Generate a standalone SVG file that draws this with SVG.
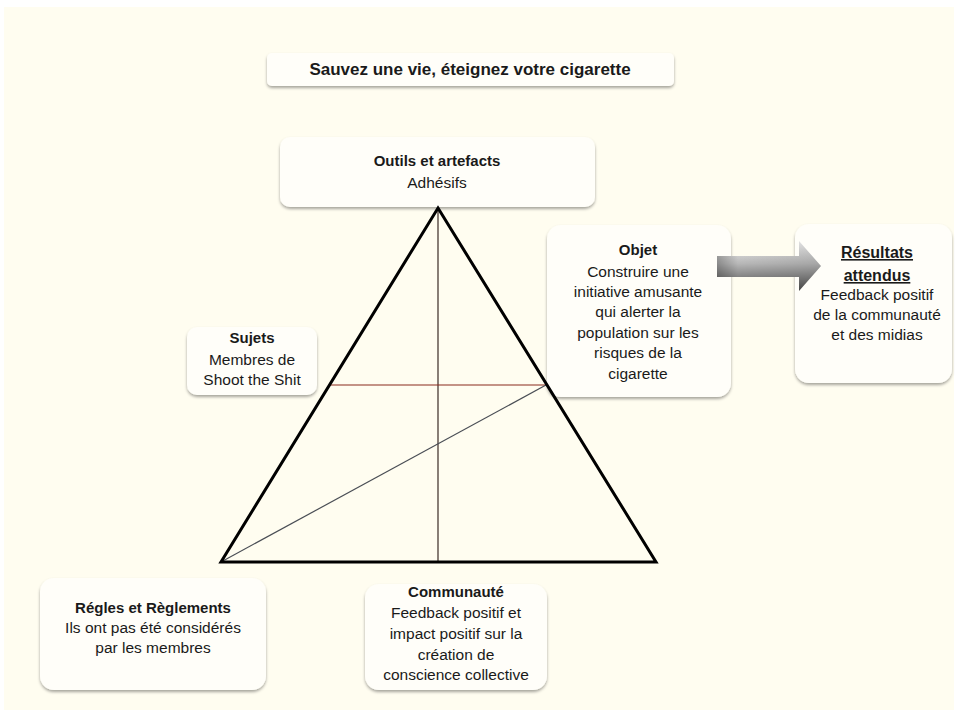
<svg xmlns="http://www.w3.org/2000/svg" width="957" height="715" viewBox="0 0 957 715">
<defs>
<filter id="sh" x="-10%" y="-10%" width="120%" height="130%">
<feDropShadow dx="0" dy="2" stdDeviation="1.8" flood-color="#000" flood-opacity="0.35"/>
</filter>
<linearGradient id="ag" x1="0" y1="0" x2="0" y2="1">
<stop offset="0" stop-color="#f4f4f4"/>
<stop offset="0.45" stop-color="#b8b8b8"/>
<stop offset="1" stop-color="#4a4a4a"/>
</linearGradient>
<linearGradient id="ah" x1="0" y1="0" x2="1" y2="0">
<stop offset="0" stop-color="#000" stop-opacity="0.25"/>
<stop offset="0.2" stop-color="#000" stop-opacity="0"/>
<stop offset="1" stop-color="#000" stop-opacity="0.1"/>
</linearGradient>
</defs>
<style>
.box{fill:#fffef9;filter:url(#sh);}
text{font-family:"Liberation Sans",Arial,sans-serif;fill:#1a1a1a;text-anchor:middle;font-size:15.5px;}
.b{font-weight:bold;font-size:15px;}
.u{font-weight:bold;font-size:16px;text-decoration:underline;}
.tri{fill:none;stroke:#000;stroke-width:3;stroke-linejoin:miter;}
.thin{stroke-width:1.2;fill:none;}
</style>
<rect x="0" y="0" width="957" height="715" fill="#ffffff"/>
<rect x="4" y="7" width="950" height="703" fill="#fffdf0"/>

<g id="title">
<rect class="box" x="267" y="53" width="407" height="33" rx="5"/>
<text x="470" y="75" style="font-weight:bold;font-size:17px">Sauvez une vie, éteignez votre cigarette</text>
</g>

<g id="outils">
<rect class="box" x="280" y="137" width="315" height="70" rx="10"/>
<text class="b" x="437" y="166">Outils et artefacts</text>
<text x="437" y="188">Adhésifs</text>
</g>

<g id="objet">
<rect class="box" x="547" y="225" width="184" height="172" rx="14"/>
<text class="b" x="638" y="255">Objet</text>
<text x="638" y="277">Construire une</text>
<text x="638" y="297">initiative amusante</text>
<text x="638" y="317">qui alerter  la</text>
<text x="638" y="338">population sur les</text>
<text x="638" y="358">risques de la</text>
<text x="638" y="379">cigarette</text>
</g>

<g id="resultats">
<rect class="box" x="795" y="224" width="157" height="159" rx="14"/>
<text class="u" x="877" y="258">Résultats</text>
<text class="u" x="877" y="281">attendus</text>
<text x="877" y="300">Feedback positif</text>
<text x="877" y="320">de la communauté</text>
<text x="877" y="340">et des midias</text>
</g>

<g id="sujets">
<rect class="box" x="187" y="327" width="130" height="68" rx="10"/>
<text class="b" x="252" y="343">Sujets</text>
<text x="252" y="365">Membres de</text>
<text x="252" y="385">Shoot the Shit</text>
</g>

<g id="regles">
<rect class="box" x="40" y="578" width="226" height="112" rx="14"/>
<text class="b" x="153" y="613">Régles et Règlements</text>
<text x="153" y="633">Ils ont pas été considérés</text>
<text x="153" y="653">par les membres</text>
</g>

<g id="communaute">
<rect class="box" x="365" y="584" width="182" height="106" rx="14"/>
<text class="b" x="456" y="597">Communauté</text>
<text x="456" y="618">Feedback positif et</text>
<text x="456" y="639">impact positif sur la</text>
<text x="456" y="660">création de</text>
<text x="456" y="680">conscience  collective</text>
</g>

<g id="connectors">
<line class="thin" x1="438" y1="208" x2="438" y2="562" stroke="#3a2a26"/>
<line class="thin" x1="330" y1="385" x2="546" y2="385" stroke="#8a2a1c"/>
<line class="thin" x1="221" y1="562" x2="546" y2="385" stroke="#4a4e55"/>
<polygon class="tri" points="438,208 656,562 221,562"/>
<g id="arrow">
<polygon points="717,256 799,256 799,241 821,266 799,291 799,277 717,277" fill="url(#ag)"/>
<polygon points="717,256 799,256 799,241 821,266 799,291 799,277 717,277" fill="url(#ah)"/>
</g>
</g>
</svg>
